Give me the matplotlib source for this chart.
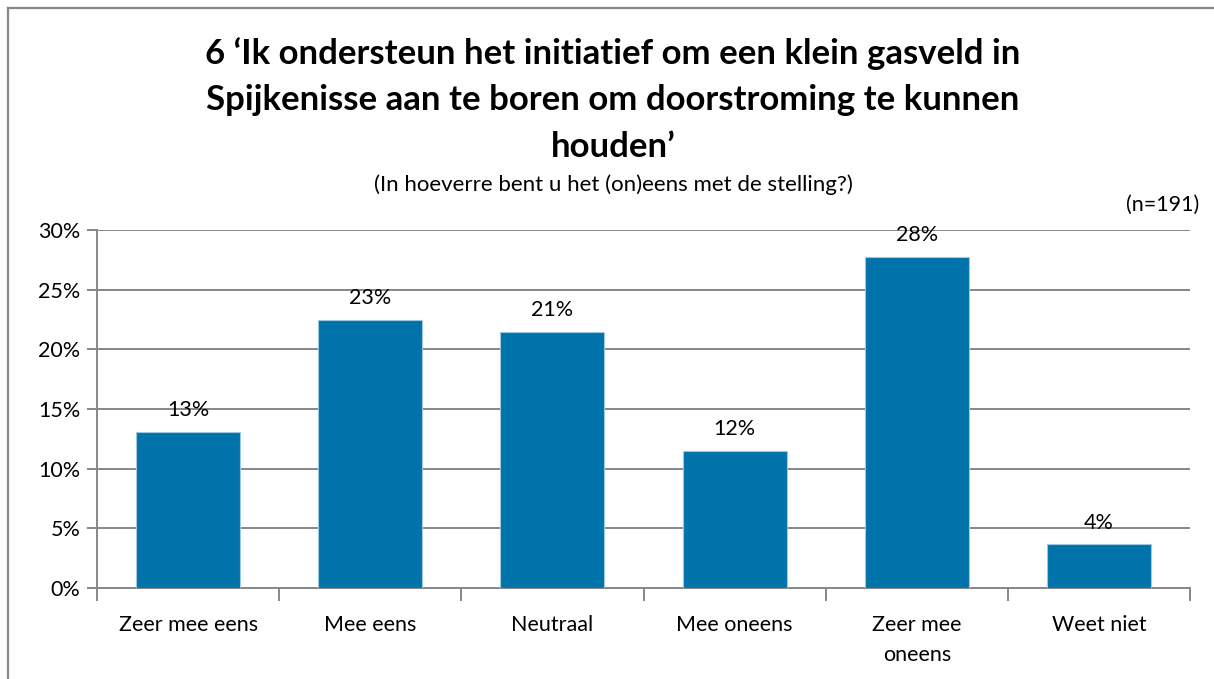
import matplotlib
matplotlib.use("Agg")
import matplotlib.pyplot as plt
from matplotlib.lines import Line2D
import numpy as np

categories = ["Zeer mee eens", "Mee eens", "Neutraal", "Mee oneens", "Zeer mee\noneens", "Weet niet"]
values = [13.05, 22.5, 21.45, 11.5, 27.75, 3.65]
labels = ["13%", "23%", "21%", "12%", "28%", "4%"]
yticks = [0, 5, 10, 15, 20, 25, 30]
title = "6 \u2018Ik ondersteun het initiatief om een klein gasveld in\nSpijkenisse aan te boren om doorstroming te kunnen\nhouden\u2019"
subtitle = "(In hoeverre bent u het (on)eens met de stelling?)"
ntext = "(n=191)"

W, H = 1214, 679
fig = plt.figure(figsize=(W/100, H/100), dpi=100)
plt.rcParams['font.family'] = ['Lato', 'DejaVu Sans']
FS = 15.5

ax = fig.add_axes([97/W, 1-588/H, (1190-97)/W, (588-230)/H])
x = np.arange(len(categories))
ax.bar(x, values, width=0.57, color="#0073AA", edgecolor="#9CC8E0", linewidth=0.8, zorder=3)
ax.set_xlim(-0.5, len(categories)-0.5)
ax.set_ylim(0, 30)
ax.set_yticks(yticks)
ax.set_yticklabels([f"{t}%" for t in yticks], fontsize=FS)
ax.yaxis.grid(True, color="#878787", linewidth=1.4, zorder=0)
ax.set_axisbelow(True)
for s in ["top", "right"]:
    ax.spines[s].set_visible(False)
for s in ["left", "bottom"]:
    ax.spines[s].set_color("#878787")
    ax.spines[s].set_linewidth(1.4)
ax.tick_params(axis="y", length=7, width=1.4, color="#878787", pad=5)
ax.set_xticks(np.arange(-0.5, len(categories), 1.0))
ax.set_xticklabels([])
ax.tick_params(axis="x", length=9, width=1.4, color="#878787")
for xi, c in zip(x, categories):
    ax.text(xi, -2.3, c, ha="center", va="top", fontsize=FS, linespacing=1.6)
for xi, v, l in zip(x, values, labels):
    ax.text(xi, v + 1.0, l, ha="center", va="bottom", fontsize=FS, zorder=4)

fig.text(613/W, 1-100/H, title, ha="center", va="center", fontsize=25, fontweight="bold", linespacing=1.55)
fig.text(613/W, 1-185/H, subtitle, ha="center", va="center", fontsize=16)
fig.text(1199/W, 1-205/H, ntext, ha="right", va="center", fontsize=FS)

fig.add_artist(Line2D([8/W, 8/W], [0, 1-8/H], transform=fig.transFigure, color="#878787", linewidth=1.6))
fig.add_artist(Line2D([8/W, 1], [1-8/H, 1-8/H], transform=fig.transFigure, color="#878787", linewidth=1.6))
fig.savefig("out.png", dpi=100)
